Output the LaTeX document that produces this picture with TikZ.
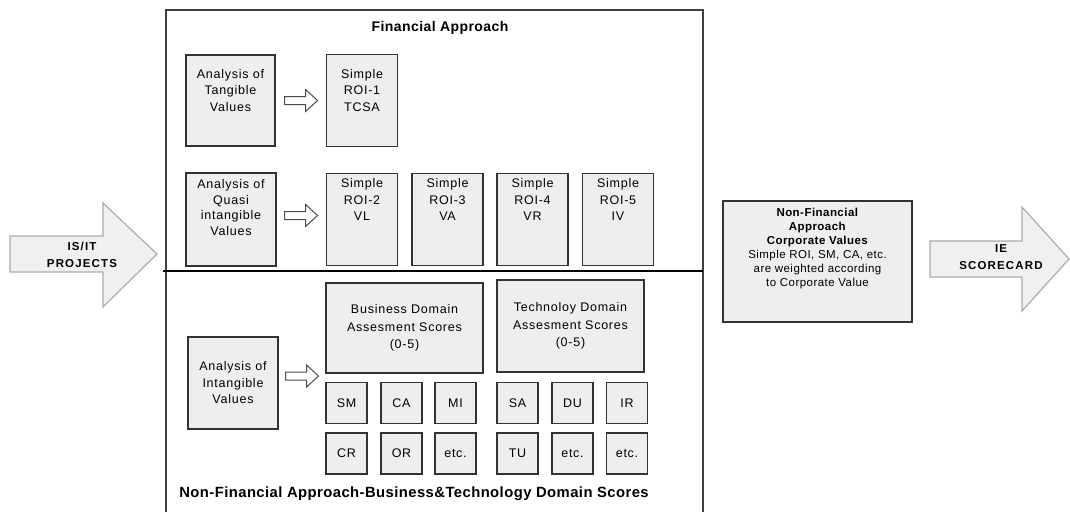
\documentclass[tikz,border=0pt]{standalone}
\usepackage{fontspec}
\setmainfont{Liberation Sans}
\newfontfamily\boxfont{Liberation Sans}[LetterSpace=6]
\newfontfamily\titlefont{Liberation Sans}[LetterSpace=3]
\newfontfamily\corpfont{Liberation Sans}[LetterSpace=4]
\newfontfamily\arrfont{Liberation Sans}[LetterSpace=10]
\usetikzlibrary{calc}
\tikzset{
  box/.style={draw=black!80, line width=1.1pt, fill=gray!13, align=center, inner sep=1pt,
    font=\boxfont\fontsize{12.5}{16.5}\selectfont},
  small/.style={box, minimum width=41pt, minimum height=41pt},
  roi/.style={box, minimum width=71pt, minimum height=92pt},
  bigarrow/.style={draw=gray!65, line width=1.2pt, fill=gray!12},
  arrowtext/.style={align=center, font=\arrfont\bfseries\fontsize{11.5}{17}\selectfont},
  openarr/.pic={\draw[line width=1pt, draw=black!70, fill=white] (0,-4)--(21,-4)--(21,-11)--(33,0)--(21,11)--(21,4)--(0,4)--cycle;}
}
\begin{document}
\begin{tikzpicture}[x=1pt,y=-1pt]
\useasboundingbox (0,0) rectangle (1070,512);
% frame
\draw[line width=1.4pt, draw=black!75] (166,512)--(166,10)--(703,10)--(703,512);
\draw[line width=2pt] (163,271)--(703,271);
\node[font=\titlefont\bfseries\fontsize{14}{15}\selectfont] (fin) at (440,28) {Financial Approach};
\node[font=\titlefont\bfseries\fontsize{14.8}{16}\selectfont] (nfin) at (414,494) {Non-Financial Approach-Business\&Technology Domain Scores};
% row 1
\node[box, minimum width=89pt, minimum height=91pt, text depth=21pt] (tang) at (230.5,100.5) {Analysis of\\Tangible\\Values};
\node[roi, text depth=21pt] (roi1) at (362,100.5) {Simple\\ROI-1\\TCSA};
\pic at ($(tang.east)+(9,0)$) {openarr};
% row 2
\node[box, minimum width=90pt, minimum height=93pt, text depth=24pt, font=\boxfont\fontsize{12.5}{15.5}\selectfont] (quasi) at (231,219.5) {Analysis of\\Quasi\\intangible\\Values};
\node[roi, text depth=40pt] (roi2) at (362,219.5) {Simple\\ROI-2\\VL};
\node[roi, text depth=40pt] (roi3) at (447.5,219.5) {Simple\\ROI-3\\VA};
\node[roi, text depth=40pt] (roi4) at (532.5,219.5) {Simple\\ROI-4\\VR};
\node[roi, text depth=40pt] (roi5) at (618,219.5) {Simple\\ROI-5\\IV};
\pic at ($(quasi.east)+(8,-4)$) {openarr};
% bottom section
\node[box, minimum width=157pt, minimum height=90pt, font=\boxfont\fontsize{12.5}{17.5}\selectfont] (bus) at (404.5,328) {Business Domain\\Assesment Scores\\(0-5)};
\node[box, minimum width=147pt, minimum height=92pt, font=\boxfont\fontsize{12.5}{17.5}\selectfont] (tech) at (570.5,326) {Technoloy Domain\\Assesment Scores\\(0-5)};
\node[box, minimum width=90pt, minimum height=92pt] (intang) at (233,383) {Analysis of\\Intangible\\Values};
\pic at ($(intang.east)+(7,-7)$) {openarr};
\node[small] (sm) at (346.5,403) {SM};
\node[small] (ca) at (401.5,403) {CA};
\node[small] (mi) at (455.5,403) {MI};
\node[small] (sa) at (517.5,403) {SA};
\node[small] (du) at (572.5,403) {DU};
\node[small] (ir) at (627,403) {IR};
\node[small] (cr) at (346.5,453.5) {CR};
\node[small] (or) at (401.5,453.5) {OR};
\node[small] (etca) at (455.5,453.5) {etc.};
\node[small] (tu) at (517.5,453.5) {TU};
\node[small] (etcb) at (572.5,453.5) {etc.};
\node[small] (etcc) at (627,453.5) {etc.};
% right box
\node[box, minimum width=189pt, minimum height=121pt, text depth=29pt, font=\corpfont\fontsize{11.5}{14}\selectfont] (corp) at (817.5,261.5)
  {\textbf{Non-Financial}\\\textbf{Approach}\\\textbf{Corporate Values}\\Simple ROI, SM, CA, etc.\\are weighted according\\to Corporate Value};
% big arrows
\draw[bigarrow] (10,236)--(103,236)--(103,203)--(157,254)--(103,307)--(103,272)--(10,272)--cycle;
\node[arrowtext] (isit) at (82,255) {IS/IT\\PROJECTS};
\draw[bigarrow] (930,241)--(1022,241)--(1022,207)--(1069,259)--(1022,311)--(1022,277)--(930,277)--cycle;
\node[arrowtext] (ie) at (1001,257) {IE\\SCORECARD};
\end{tikzpicture}
\end{document}
